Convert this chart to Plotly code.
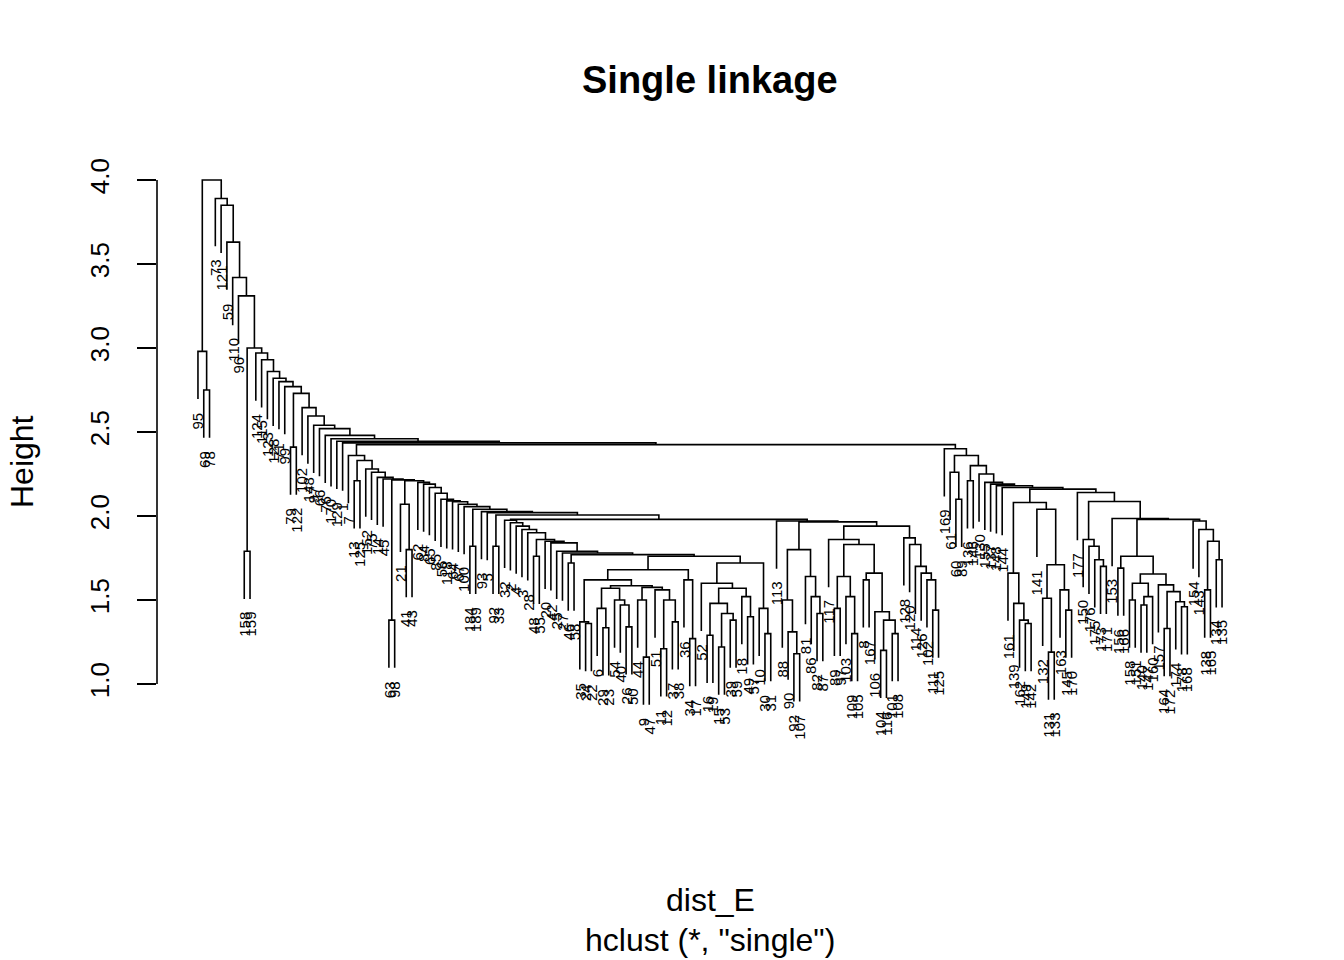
import plotly.graph_objects as go

# Leaf labels in dendrogram order (left to right)
leaf_labels = [
    95, 69, 78, 73, 121, 59, 110, 96, 158, 159,
    124, 115, 123, 128, 71, 99, 79, 122, 102, 148,
    97, 66, 76, 170, 129, 1, 7, 13, 125, 152,
    75, 14, 45, 63, 98, 21, 41, 43, 62, 84,
    65, 85, 56, 118, 64, 67, 100, 184, 189, 93,
    5, 92, 33, 32, 2, 4, 3, 28, 48, 55,
    20, 42, 25, 27, 46, 58, 35, 24, 22, 6,
    29, 23, 54, 40, 26, 50, 44, 9, 47, 51,
    11, 12, 37, 38, 36, 34, 17, 52, 16, 19,
    15, 53, 39, 59, 18, 49, 57, 10, 30, 31,
    113, 88, 90, 92, 107, 81, 86, 82, 87, 117,
    89, 97, 103, 109, 105, 8, 167, 106, 104, 116,
    101, 108, 128, 120, 114, 126, 102, 111, 125, 169,
    61, 60, 89, 136, 146, 130, 155, 137, 148, 144,
    161, 139, 162, 149, 142, 141, 132, 131, 133, 163,
    145, 170, 177, 150, 176, 175, 173, 171, 153, 156,
    166, 158, 151, 140, 147, 160, 157, 164, 172, 174,
    178, 168, 154, 143, 138, 165, 134, 135,
]

# Height at which each pair of neighbouring leaves is joined (cophenetic height)
merge_heights = [
    2.98, 2.75, 4.00, 3.89, 3.85, 3.63, 3.42, 3.31, 1.79, 3.00,
    2.97, 2.93, 2.86, 2.82, 2.80, 2.77, 2.41, 2.73, 2.645, 2.595,
    2.54, 2.52, 2.48, 2.46, 2.445, 2.435, 2.36, 2.21, 2.33, 2.28,
    2.26, 2.23, 2.22, 1.38, 2.215, 2.07, 1.80, 2.21, 2.20, 2.19,
    2.17, 2.135, 2.10, 2.09, 2.085, 2.07, 2.056, 1.82, 2.04, 2.026,
    2.02, 1.82, 2.006, 1.975, 1.96, 1.94, 1.92, 1.90, 1.76, 1.86,
    1.85, 1.84, 1.79, 1.78, 1.72, 1.77, 1.37, 1.36, 1.62, 1.45,
    1.335, 1.57, 1.50, 1.47, 1.34, 1.585, 1.50, 1.16, 1.575, 1.56,
    1.21, 1.50, 1.37, 1.68, 1.62, 1.27, 1.76, 1.60, 1.29, 1.48,
    1.22, 1.42, 1.38, 1.57, 1.52, 1.40, 1.72, 1.45, 1.30, 1.98,
    1.97, 1.50, 1.31, 1.18, 1.80, 1.64, 1.52, 1.42, 1.965, 1.86,
    1.45, 1.64, 1.52, 1.30, 1.83, 1.62, 1.66, 1.43, 1.20, 1.38,
    1.30, 1.94, 1.87, 1.83, 1.70, 1.66, 1.62, 1.44, 2.425, 2.40,
    2.26, 2.10, 2.36, 2.21, 2.30, 2.25, 2.20, 2.19, 2.18, 2.17,
    1.66, 1.48, 1.38, 1.36, 2.08, 2.04, 1.51, 1.19, 1.71, 1.56,
    1.44, 2.16, 2.14, 1.86, 1.82, 1.74, 1.70, 2.086, 1.985, 1.69,
    1.76, 1.50, 1.60, 1.47, 1.52, 1.655, 1.59, 1.33, 1.55, 1.49,
    1.46, 1.98, 1.97, 1.92, 1.56, 1.85, 1.74,
]

y_ticks = [1.0, 1.5, 2.0, 2.5, 3.0, 3.5, 4.0]
y_tick_text = ["1.0", "1.5", "2.0", "2.5", "3.0", "3.5", "4.0"]

title_text = "Single linkage"
x_title = "dist_E"
sub_title = 'hclust (*, "single")'
y_title = "Height"

n = len(leaf_labels)
hang = 0.1 * (max(merge_heights) - min(merge_heights))

seg_x, seg_y = [], []
leaf_bottom = [None] * n


def build(i, j):
    """Return (x, height) of the node spanning leaves i..j and record its drawing."""
    if i == j:
        return (i + 1.0, None)
    k = max(range(i, j), key=lambda t: merge_heights[t])
    h = merge_heights[k]
    xl, hl = build(i, k)
    xr, hr = build(k + 1, j)
    if hl is None:
        hl = h - hang
        leaf_bottom[i] = hl
    if hr is None:
        hr = h - hang
        leaf_bottom[j] = hr
    seg_x.extend([xl, xl, xr, xr, None])
    seg_y.extend([hl, h, h, hr, None])
    return ((xl + xr) / 2.0, h)


build(0, n - 1)

FONT = "Liberation Sans, Arial, Helvetica, sans-serif"

fig = go.Figure()
fig.add_trace(go.Scatter(
    x=seg_x, y=seg_y, mode="lines",
    line=dict(color="black", width=1.6),
    hoverinfo="skip", showlegend=False,
))

annotations = []
for idx, lab in enumerate(leaf_labels):
    annotations.append(dict(
        x=idx + 1, y=leaf_bottom[idx], xref="x", yref="y",
        text=str(lab), showarrow=False, textangle=-90,
        xanchor="center", yanchor="top", yshift=-11,
        font=dict(family=FONT, size=15, color="black"),
    ))

# plot area: x 157..1263 px, y 150..740 px
annotations.append(dict(x=0.5, y=(740 - 80) / 590, xref="paper", yref="paper",
                        text="<b>" + title_text + "</b>", showarrow=False,
                        xanchor="center", yanchor="middle",
                        font=dict(family=FONT, size=38, color="black")))
annotations.append(dict(x=0.5, y=(740 - 900) / 590, xref="paper", yref="paper",
                        text=x_title, showarrow=False,
                        xanchor="center", yanchor="middle",
                        font=dict(family=FONT, size=32, color="black")))
annotations.append(dict(x=0.5, y=(740 - 940) / 590, xref="paper", yref="paper",
                        text=sub_title, showarrow=False,
                        xanchor="center", yanchor="middle",
                        font=dict(family=FONT, size=32, color="black")))
annotations.append(dict(x=(22 - 157) / 1106, y=(740 - 462) / 590, xref="paper", yref="paper",
                        text=y_title, showarrow=False, textangle=-90,
                        xanchor="center", yanchor="middle",
                        font=dict(family=FONT, size=32, color="black")))

fig.update_layout(
    width=1344, height=960,
    margin=dict(l=157, r=81, t=150, b=220, pad=0),
    plot_bgcolor="white", paper_bgcolor="white",
    showlegend=False,
    annotations=annotations,
    shapes=[dict(type="line", xref="paper", yref="y", x0=0, x1=0,
                 y0=y_ticks[0], y1=y_ticks[-1],
                 line=dict(color="black", width=1.6))],
)
fig.update_xaxes(range=[1 - 0.04 * (n - 1), n + 0.04 * (n - 1)], visible=False)
fig.update_yaxes(
    range=[1 - (740 - 684) / 168, 4 + (180 - 150) / 168],
    tickvals=y_ticks, ticktext=y_tick_text,
    ticks="outside", ticklen=19, tickwidth=1.6, tickcolor="black",
    showgrid=False, zeroline=False, showline=False,
    tickangle=-90, ticklabelstandoff=18,
    tickfont=dict(family=FONT, size=26, color="black"),
)

fig.write_html("out.html", config={"displayModeBar": False},
               post_script="document.body.style.margin='0';")
